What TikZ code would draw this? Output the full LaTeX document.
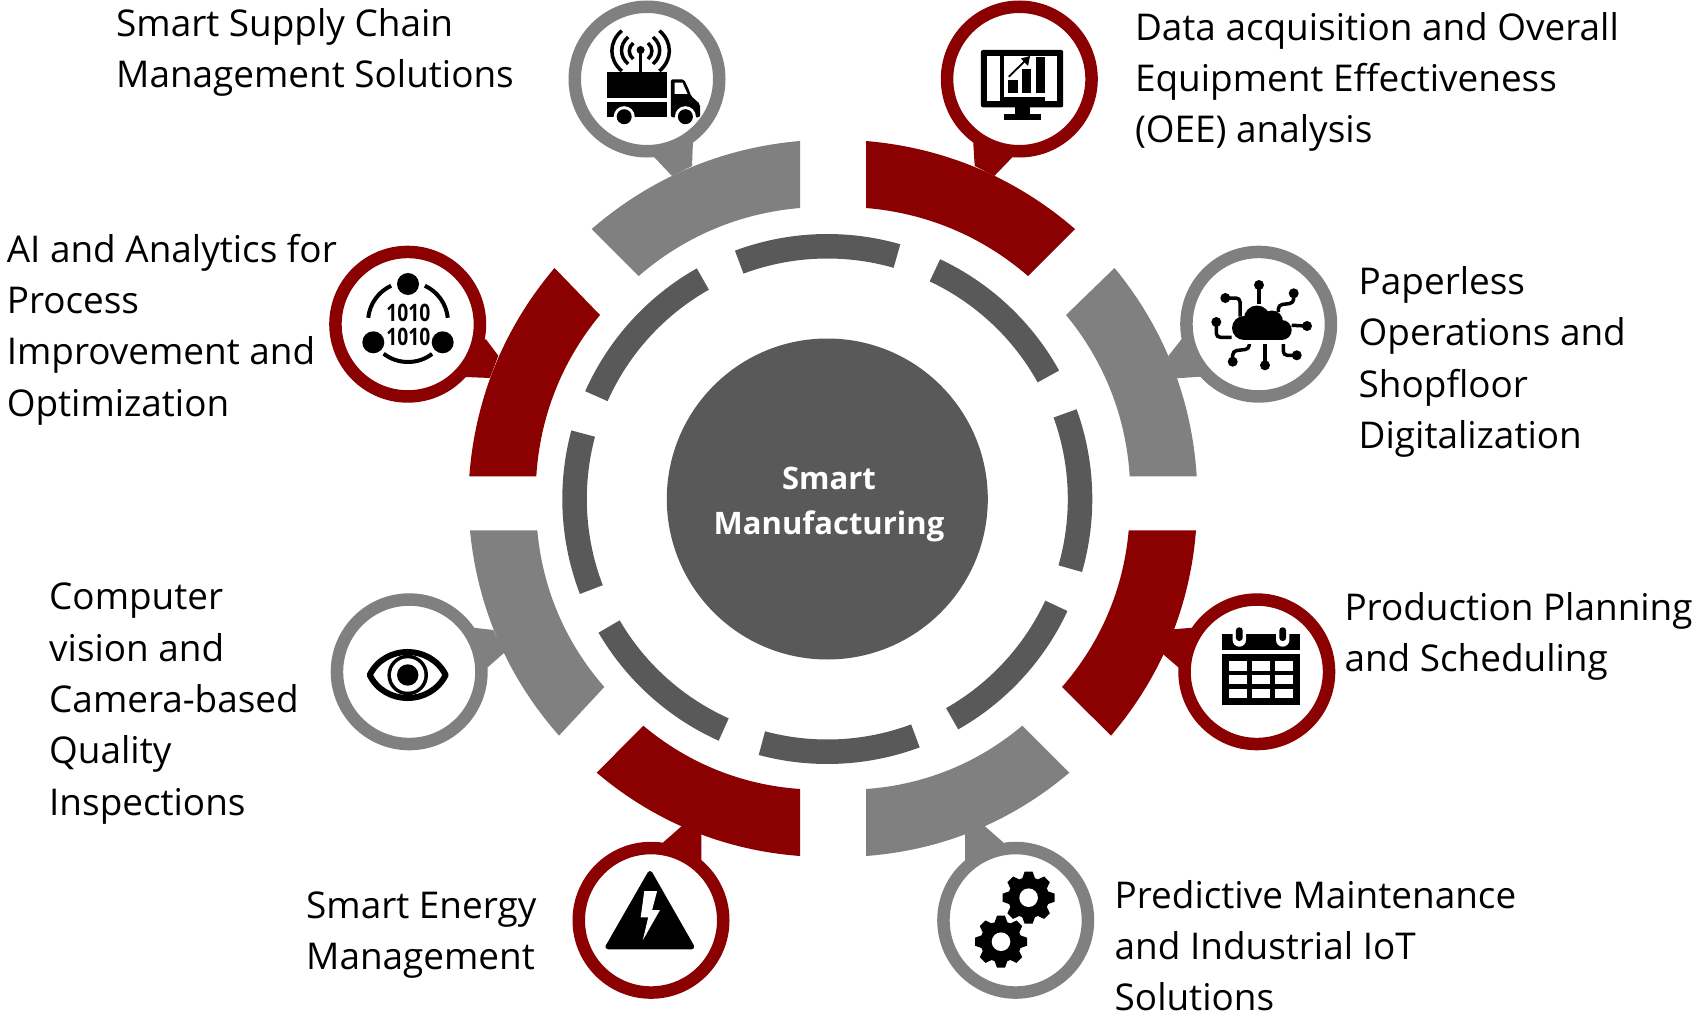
\documentclass[tikz,border=0pt]{standalone}
\usepackage{fontspec}
\setmainfont{Open Sans}
\definecolor{cred}{HTML}{8B0000}
\definecolor{cgray}{HTML}{808080}
\definecolor{cdark}{HTML}{595959}
\tikzset{
  ringseg/.style={fill=cdark,draw=none},
  callout/.style={circle,minimum size=144.5pt,inner sep=0pt,outer sep=0pt,line width=12.5pt,fill=white},
  lab/.style={align=left,anchor=west,inner sep=0pt,font=\fontsize{36.9}{51.3}\selectfont,text=black},
  wire/.style={draw=black,line width=3.5pt,rounded corners=4pt},
  wave/.style={draw=black,line width=3.5pt}
}
\newcommand{\seg}[2]{\fill[ringseg] (#1:265pt) arc[start angle=#1,end angle=#2,radius=265pt] -- (#2:240.5pt) arc[start angle=#2,end angle=#1,radius=240.5pt] -- cycle;}
\newcommand{\oarc}[5]{\fill[#1] #2 to[bend left=18,looseness=.885] #3 -- #4 to[bend right=18,looseness=.885] #5 -- cycle;}
\newcommand{\gearicon}[2]{\begin{scope}[shift={(#1,#2)}]
  \foreach \a in {0,45,...,315}{\fill[black,rotate=\a] (-6.5,-19) -- (-4,-26) -- (4,-26) -- (6.5,-19) -- cycle;}
  \fill[black] (0,0) circle[radius=20.5pt];
  \fill[white] (0,0) circle[radius=9.3pt];
\end{scope}}
\newcommand{\ballwire}[2]{\fill[black] #1 circle[radius=5pt]; \draw[wire] #2;}
\begin{document}
\begin{tikzpicture}[x=1pt,y=-1pt]
\useasboundingbox (0,0) rectangle (1698,1014);
% outer arcs
\oarc{cred}{(866,141)}{(1075,229)}{(1028,276)}{(866,208)}
\oarc{cgray}{(1114.5,268)}{(1196.7,476.3)}{(1129.7,476.3)}{(1066,315)}
\oarc{cred}{(1196,530.3)}{(1111,735.6)}{(1062,687)}{(1128.7,530.3)}
\oarc{cgray}{(1069.3,772.7)}{(866,856)}{(866,789)}{(1022.3,725.7)}
\oarc{cred}{(800,856)}{(596.7,772.7)}{(643.3,725.7)}{(800,789)}
\oarc{cgray}{(559,735.6)}{(470,530.3)}{(537.3,530.3)}{(604.3,687)}
\oarc{cred}{(469.3,476.3)}{(554.5,268)}{(600,315)}{(536.3,476.3)}
\oarc{cgray}{(591.7,229)}{(800,141)}{(800,208)}{(638.7,276)}
% inner ring
\begin{scope}[shift={(827.3,499)},y=1pt]
\seg{165}{201}\seg{119.5}{156}\seg{74}{110.4}\seg{29}{64.8}
\seg{-16}{19.8}\seg{-60.4}{-25}\seg{-105}{-69.6}\seg{210.3}{245.8}
\end{scope}
% hub
\node[circle,fill=cdark,minimum size=321pt,inner sep=0pt] (hub) at (827.3,499) {};
\node[inner sep=0pt,align=center,text=white,font=\fontsize{31}{44.5}\selectfont\bfseries] (hubtext) at (829,504.4) {Smart\\Manufacturing};
% callout tails
\fill[cgray] (654,157) -- (672,176) -- (692,166) -- (693,141) -- (660,120) -- cycle;
\fill[cred] (1012.6,157) -- (994.3,176) -- (974.7,166) -- (973.2,141.7) -- (1005,120) -- cycle;
\fill[cgray] (1181.7,339) -- (1168.3,356) -- (1176.7,378.3) -- (1200,376.7) -- (1225,340) -- cycle;
\fill[cred] (486,339.3) -- (498.3,355.7) -- (490,378) -- (466,377) -- (440,340) -- cycle;
\fill[cred] (1192.7,627.7) -- (1172.7,629.3) -- (1162,653.3) -- (1178.3,667.3) -- (1220,660) -- cycle;
\fill[cgray] (473.3,627.7) -- (493.3,630) -- (504.3,652.7) -- (487.7,667.3) -- (445,660) -- cycle;
\fill[cred] (663.2,842.3) -- (681.8,826) -- (701.4,834.3) -- (701.4,860.7) -- (670,880) -- cycle;
\fill[cgray] (1003.2,842.3) -- (984.6,826) -- (965,834.3) -- (965,860.7) -- (1000,880) -- cycle;
% callout circles
\node[callout,draw=cgray] (truck) at (647,79) {};
\node[callout,draw=cred] (monitor) at (1019.3,79) {};
\node[callout,draw=cgray] (cloud) at (1258.7,324.2) {};
\node[callout,draw=cred] (ai) at (407.7,324.2) {};
\node[callout,draw=cred] (calendar) at (1256.8,671.8) {};
\node[callout,draw=cgray] (eye) at (409.2,671.8) {};
\node[callout,draw=cred] (energy) at (651,920.3) {};
\node[callout,draw=cgray] (gears) at (1015.7,920.3) {};
% truck icon
\fill[black] (607.4,72.3) rectangle (666.7,98);
\fill[black] (607.4,102.3) rectangle (666.7,117.3);
\fill[black,rounded corners=2pt] (670.9,79.3) -- (684,79.3) -- (689,90) -- (691,96) -- (700,104) -- (700,117.3) -- (670.9,117.3) -- cycle;
\fill[white] (674.7,82.7) -- (682.5,82.7) -- (687.5,94) -- (674.7,94) -- cycle;
\fill[white] (624.2,116.7) circle[radius=10.5pt] (685.4,116.7) circle[radius=10.5pt];
\fill[black] (624.2,116.7) circle[radius=7.5pt] (685.4,116.7) circle[radius=7.5pt];
\draw[black,line width=3pt] (640.6,72) -- (640.6,50);
\fill[black] (640.6,50) circle[radius=4pt];
\draw[wave] (659.4,30.7) to[bend left=50,looseness=1.1] (659.4,71);
\draw[wave] (653,37) to[bend left=50,looseness=1.1] (653,64);
\draw[wave] (648,43) to[bend left=50,looseness=1.1] (648,59);
\draw[wave] (621.8,30.7) to[bend right=50,looseness=1.1] (621.8,71);
\draw[wave] (628.2,37) to[bend right=50,looseness=1.1] (628.2,64);
\draw[wave] (633.2,43) to[bend right=50,looseness=1.1] (633.2,59);
% monitor icon
\fill[black,rounded corners=2pt] (980.9,50) rectangle (1063.2,107.3);
\fill[white] (987,56) rectangle (1057.4,101);
\fill[black] (1014.5,107) rectangle (1030,114);
\fill[black] (1003.5,114) rectangle (1040.6,119.7);
\fill[black] (1000,56) rectangle (1003.8,101);
\fill[black] (1000,97) rectangle (1045,101);
\fill[black] (1008.4,80.3) rectangle (1018,93);
\fill[black] (1022.2,69.3) rectangle (1031.4,93);
\fill[black] (1035.6,56.7) rectangle (1045,93);
\draw[black,line width=1.8pt] (1008.8,76.7) -- (1027,59);
\fill[black] (1030,56) -- (1021,58.5) -- (1028,66) -- cycle;
% cloud icon
\fill[black] (1244,328) circle[radius=12pt] (1257,318.5) circle[radius=13pt] (1272,321.5) circle[radius=11pt] (1281.7,330) circle[radius=10pt];
\fill[black] (1244,325) rectangle (1281.7,340);
\ballwire{(1259,285)}{(1259,285) -- (1259,304)}
\ballwire{(1225.3,298)}{(1225.3,298) -- (1240,298) -- (1240,316.7)}
\ballwire{(1293.7,293.3)}{(1293.7,293.3) -- (1293.7,303) -- (1278.3,305) -- (1278.3,312)}
\ballwire{(1216.3,322)}{(1216.3,322) -- (1216.3,337.3) -- (1231.7,337.3)}
\ballwire{(1307,326)}{(1307,326) -- (1291.7,325.3)}
\ballwire{(1232.7,361.7)}{(1232.7,361.7) -- (1232.7,351) -- (1249.3,349) -- (1249.3,344)}
\ballwire{(1265,365.3)}{(1265,365.3) -- (1265,344)}
\ballwire{(1296.7,355.3)}{(1296.7,355.3) -- (1283.3,355.3) -- (1283.3,344)}
% AI icon
\fill[black] (408,284) circle[radius=11pt] (373.3,342.3) circle[radius=11pt] (442.7,342.3) circle[radius=11pt];
\begin{scope}[shift={(408,322)},y=1pt]
\draw[black,line width=4pt] (174:40pt) arc[start angle=174,end angle=115,radius=40pt];
\draw[black,line width=4pt] (65:40pt) arc[start angle=65,end angle=6,radius=40pt];
\draw[black,line width=4pt] (232.5:40pt) arc[start angle=232.5,end angle=307,radius=40pt];
\end{scope}
\node[inner sep=0pt,font=\fontsize{24}{24}\selectfont\bfseries,xscale=.8,transform shape] (bits1) at (408.3,312.7) {1010};
\node[inner sep=0pt,font=\fontsize{24}{24}\selectfont\bfseries,xscale=.8,transform shape] (bits2) at (408.3,336.7) {1010};
% calendar icon
\fill[black] (1222.3,634) rectangle (1300,650);
\fill[black] (1222.3,654.3) rectangle (1300,704.7);
\foreach \cx in {1239.3,1282.7}{
  \fill[white] (\cx-6.7,634) -- (\cx-6.7,640) arc[start angle=180,end angle=360,radius=6.7pt] -- (\cx+6.7,634) -- cycle;
  \fill[black,rounded corners=3.2pt] (\cx-3.4,627.3) rectangle (\cx+3.4,641);
}
\foreach \ry in {661.3,675,688.7}{
  \fill[white] (1229.3,\ry) rectangle (1247.3,\ry+9.4);
  \fill[white] (1252,\ry) rectangle (1270,\ry+9.4);
  \fill[white] (1274.7,\ry) rectangle (1293.3,\ry+9.4);
}
% eye icon
\draw[black,line width=6pt,fill=white,line join=round] (369.7,675) .. controls (385,644.3) and (430,644.3) .. (445.7,675) .. controls (430,705.7) and (385,705.7) .. (369.7,675) -- cycle;
\fill[black] (407.7,675) circle[radius=20.3pt];
\fill[white] (407.7,675) circle[radius=16.7pt];
\fill[black] (407.7,675) circle[radius=10.7pt];
% energy icon
\fill[black,draw=black,line width=5pt,line join=round] (650,873.5) -- (691.8,946.8) -- (607.9,946.8) -- cycle;
\fill[white] (644.3,891) -- (657.1,891) -- (652.1,910) -- (660,910) -- (642.9,940) -- (648.2,917.3) -- (640.7,917.3) -- cycle;
% gears icon
\gearicon{1028.6}{897.7}
\gearicon{1001}{941.7}
% labels
\node[lab] (t1) at (116,52.3) {Smart Supply Chain\\Management Solutions};
\node[lab] (t2) at (1134.8,82) {Data acquisition and Overall\\Equipment Effectiveness\\(OEE) analysis};
\node[lab] (t3) at (6.6,329.6) {AI and Analytics for\\Process\\Improvement and\\Optimization};
\node[lab] (t4) at (1358.5,362) {Paperless\\Operations and\\Shopfloor\\Digitalization};
\node[lab] (t5) at (49,703.5) {Computer\\vision and\\Camera-based\\Quality\\Inspections};
\node[lab] (t6) at (1344.3,636.5) {Production Planning\\and Scheduling};
\node[lab] (t7) at (306,935) {Smart Energy\\Management};
\node[lab] (t8) at (1114.5,945.5) {Predictive Maintenance\\and Industrial IoT\\Solutions};
\end{tikzpicture}
\end{document}
